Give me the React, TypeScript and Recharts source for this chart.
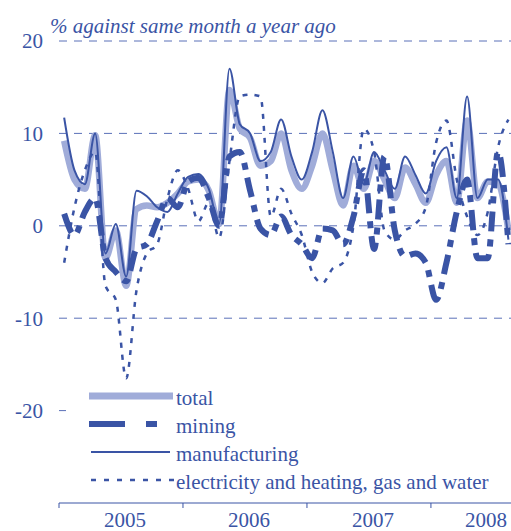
import React from 'react';
import { LineChart, Line, XAxis, YAxis, CartesianGrid } from 'recharts';

const BLUE = '#3a54a5';
const FONT = '"Liberation Serif", "Times New Roman", serif';

// year labels and the month index where each year starts
const years = ['2005', '2006', '2007', '2008'];
const yearStarts = [0, 12, 24, 36];
const yTicks = [-20, -10, 0, 10, 20];
const yDomain = [-30, 20];

// monthly values, Jan 2005 .. Aug 2008, % y/y
const total = [
    9.2, 5, 4, 9.8, -3.5, -0.5, -6.5, 1.8, 2.2, 2, 2.5, 3.5,
    4.8, 5, 3.8, 0.2, 14.7, 10.5, 9.5, 6.5, 7, 10, 6, 4,
    6.5, 10, 6, 2.2, 6.5, 4, 7, 5, 3, 6.3, 4.5, 2.5,
    5.5, 7, 2.5, 11.4, 3, 4.8, 4.5, -0.5,
];
const mining = [
    1.3, -1, 1.5, 3, -3.5, -5, -6, -2.5, -2, 0.5, 3, 2,
    4.8, 5.2, 3, 0, 7.5, 8, 3.8, -0.3, -1, 1, -1, -2,
    -3.5, -0.3, -0.5, -2, 1, 6, -2.5, 7.5, -0.5, -3.3, -3, -4,
    -8, -4, 1.5, 5, -3.5, -3.5, 8, -2,
];
const manufacturing = [
    11.7, 6, 4.5, 10, -3, 0.2, -5.5, 3.8, 3.2, 2, 1.5, 3.5,
    5.3, 5.6, 4, 0.2, 17, 11, 10, 7, 8, 11.5, 7.5, 5,
    8, 12.5, 8, 3, 7.5, 4.5, 8, 6, 4, 7.5, 5.5, 3.5,
    7, 8.5, 3, 14, 3, 5, 5, -1.5,
];
const electricity = [
    -4, 2, 6, 8, -6.5, -8, -16.5, -7, -3, -2, 3, 6,
    4, 0.5, 2.5, -1.3, 7, 14, 14.2, 14, 1, 4, 1.3, -1,
    -5, -6.2, -4.6, -4, 0, 10.5, 8, -0.5, -1.5, -0.5, 0.2, 2,
    9, 11.4, 5, 1, -1, 1.5, 8.5, 11.5,
];

const data = total.map((t, i) => ({
    m: i + 0.5,
    total: t,
    mining: mining[i],
    manufacturing: manufacturing[i],
    electricity: electricity[i],
}));

const YearTick = (props: any) => {
    const { x, y, payload } = props;
    const idx = yearStarts.indexOf(payload.value);
    const shift = idx === 3 ? 55 : 66;
    return (
        <text x={x + shift} y={y + 17} textAnchor="middle" fill={BLUE} fontSize={21} fontFamily={FONT}>
            {years[idx]}
        </text>
    );
};

// grid only at the labelled ticks (not at the -30 bottom edge)
const gridRows = (args: any) => {
    const top = args?.offset?.top ?? 41;
    const h = args?.offset?.height ?? 462;
    return yTicks.map((t) => top + ((yDomain[1] - t) / (yDomain[1] - yDomain[0])) * h);
};

const legendRows = [
    { label: 'total', y: 396 },
    { label: 'mining', y: 424 },
    { label: 'manufacturing', y: 452 },
    { label: 'electricity and heating, gas and water', y: 480 },
];

export default function App() {
    return (
        <div style={{ position: 'absolute', left: 0, top: 0, width: 511, height: 531, background: '#fff' }}>
            <LineChart width={511} height={531} data={data} margin={{ top: 41, right: 0, bottom: 0, left: 0 }}>
                <CartesianGrid
                    horizontal
                    vertical={false}
                    strokeDasharray="8 7"
                    stroke="#5a70b8"
                    horizontalCoordinatesGenerator={gridRows}
                />
                <XAxis
                    dataKey="m"
                    type="number"
                    domain={[0, 43.75]}
                    ticks={yearStarts}
                    height={28}
                    tickSize={5}
                    tickMargin={2}
                    stroke={BLUE}
                    axisLine={{ stroke: BLUE }}
                    tickLine={{ stroke: BLUE }}
                    tick={<YearTick />}
                    interval={0}
                />
                <YAxis
                    type="number"
                    domain={yDomain}
                    ticks={yTicks}
                    width={59}
                    axisLine={false}
                    tickLine={false}
                    tickSize={0}
                    tickMargin={16}
                    tick={{ fill: BLUE, fontSize: 21, fontFamily: FONT }}
                    interval={0}
                />
                <Line type="monotone" dataKey="total" stroke="#a0acd9" strokeWidth={6.5} dot={false} isAnimationActive={false} />
                <Line type="monotone" dataKey="manufacturing" stroke={BLUE} strokeWidth={2} dot={false} isAnimationActive={false} />
                <Line type="monotone" dataKey="mining" stroke={BLUE} strokeWidth={6} strokeDasharray="20 8 7 8" dot={false} isAnimationActive={false} />
                <Line type="monotone" dataKey="electricity" stroke={BLUE} strokeWidth={2.5} strokeDasharray="5 7" dot={false} isAnimationActive={false} />
            </LineChart>
            <svg width={511} height={531} style={{ position: 'absolute', left: 0, top: 0, pointerEvents: 'none' }}>
                <text x={50} y={33} fill={BLUE} fontSize={21} fontStyle="italic" fontFamily={FONT}>
                    % against same month a year ago
                </text>
                <rect x={66} y={384} width={445} height={112} fill="#fff" />
                <line x1={89} x2={173} y1={396} y2={396} stroke="#a0acd9" strokeWidth={7} />
                <line x1={89} x2={125} y1={424} y2={424} stroke={BLUE} strokeWidth={6} />
                <line x1={146} x2={157} y1={424} y2={424} stroke={BLUE} strokeWidth={6} />
                <line x1={91} x2={170} y1={452} y2={452} stroke={BLUE} strokeWidth={2} />
                <line x1={91} x2={174} y1={480} y2={480} stroke={BLUE} strokeWidth={2.5} strokeDasharray="5 8" />
                {legendRows.map((r) => (
                    <text key={r.label} x={176} y={r.y + 9} fill={BLUE} fontSize={21} fontFamily={FONT}>
                        {r.label}
                    </text>
                ))}
            </svg>
        </div>
    );
}
